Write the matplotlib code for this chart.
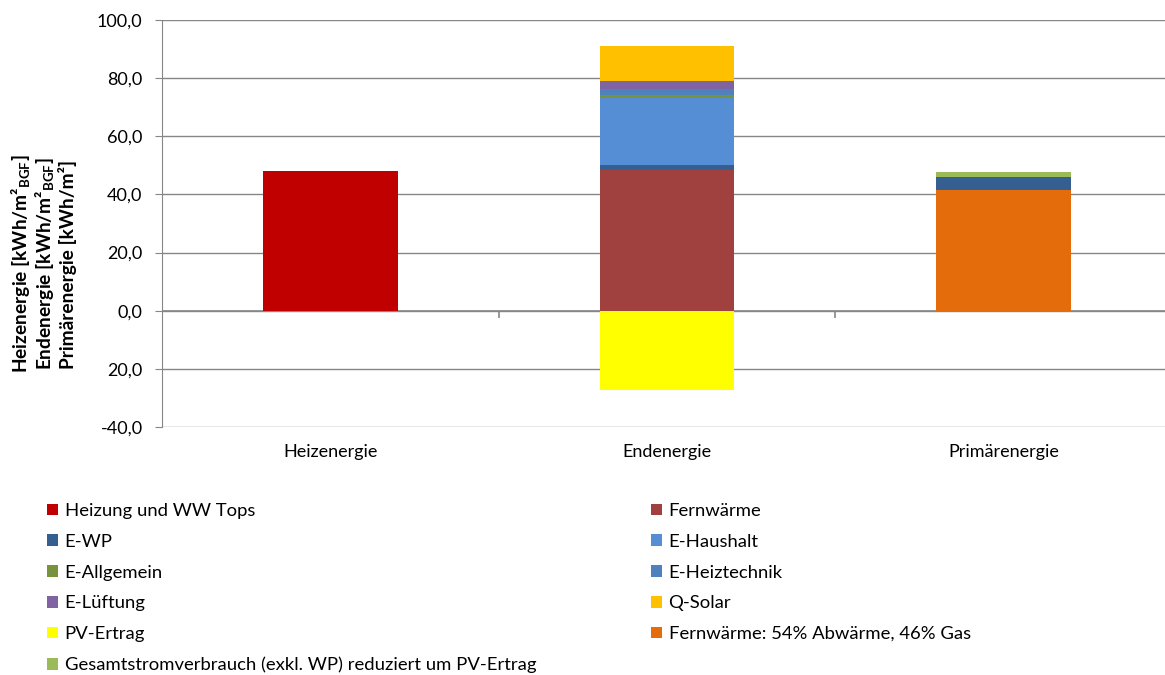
import matplotlib.pyplot as plt
from matplotlib.patches import Patch

plt.rcParams['font.family'] = ['Lato', 'DejaVu Sans']
plt.rcParams['mathtext.fontset'] = 'custom'
plt.rcParams['mathtext.rm'] = 'Lato'
plt.rcParams['mathtext.bf'] = 'Lato:bold'

# Kategorien und Serienwerte (kWh/m²)
categories = ['Heizenergie', 'Endenergie', 'Primärenergie']

heizung_ww = [48.1, 0, 0]
fw_abwaerme = [0, 0, 41.6]
fernwaerme = [0, 48.5, 0]
e_wp = [0, 1.5, 4.4]
e_haushalt = [0, 23.2, 0]
e_allgemein = [0, 1.0, 0]
e_heiztechnik = [0, 2.1, 0]
e_lueftung = [0, 2.7, 0]
q_solar = [0, 12.1, 0]
gesamtstrom = [0, 0, 1.8]
pv_ertrag = [0, -27.2, 0]

yticks = [-40, -20, 0, 20, 40, 60, 80, 100]
ytick_labels = ['-40,0', '20,0', '0,0', '20,0', '40,0', '60,0', '80,0', '100,0']

series = [
    ('Heizung und WW Tops', heizung_ww, '#C00000'),
    ('Fernwärme: 54% Abwärme, 46% Gas', fw_abwaerme, '#E46C0A'),
    ('Fernwärme', fernwaerme, '#A0403F'),
    ('E-WP', e_wp, '#355F91'),
    ('E-Haushalt', e_haushalt, '#558ED5'),
    ('E-Allgemein', e_allgemein, '#77933C'),
    ('E-Heiztechnik', e_heiztechnik, '#4F81BD'),
    ('E-Lüftung', e_lueftung, '#8064A2'),
    ('Q-Solar', q_solar, '#FFC000'),
    ('Gesamtstromverbrauch (exkl. WP) reduziert um PV-Ertrag', gesamtstrom, '#9BBB59'),
]
pv_color = '#FFFF00'
grid_col = '#868686'

fig = plt.figure(figsize=(11.65, 6.75), dpi=100)
ax = fig.add_axes([162 / 1165, 1 - 427 / 675, 1 - 162 / 1165, (427 - 20) / 675])

x = list(range(len(categories)))
width = 0.4
bottom = [0.0] * len(categories)
colors = {}
for name, vals, col in series:
    ax.bar(x, vals, width, bottom=bottom, color=col, zorder=3)
    bottom = [b + v for b, v in zip(bottom, vals)]
    colors[name] = col
ax.bar(x, pv_ertrag, width, color=pv_color, zorder=3)
colors['PV-Ertrag'] = pv_color

ax.set_xlim(-0.5, 2.48)
ax.set_ylim(-40, 100)
ax.set_yticks(yticks)
ax.set_yticklabels(ytick_labels, fontsize=13)
ax.set_xticks(x)
ax.set_xticklabels(categories, fontsize=13)
ax.tick_params(axis='x', length=0, pad=12)
ax.tick_params(axis='y', length=5, color=grid_col, pad=9)
ax.yaxis.grid(True, color=grid_col, linewidth=1, zorder=0)
ax.axhline(0, color=grid_col, linewidth=1.2, zorder=2)
ax.vlines([0.5, 1.5], -2.4, 0, color=grid_col, linewidth=1.2, zorder=2)
for s in ['top', 'right', 'bottom']:
    ax.spines[s].set_visible(False)
ax.spines['left'].set_color(grid_col)

fig.text(43 / 1165, 1 - 264 / 675,
         'Heizenergie [kWh/m²$_{\\mathbf{BGF}}$]\n'
         'Endenergie [kWh/m²$_{\\mathbf{BGF}}$]\n'
         'Primärenergie [kWh/m²]',
         rotation=90, ha='center', va='center', multialignment='center',
         fontsize=13.8, fontweight='bold', linespacing=1.05)

# Legende in zwei Spalten
left_items = ['Heizung und WW Tops', 'E-WP', 'E-Allgemein', 'E-Lüftung', 'PV-Ertrag',
              'Gesamtstromverbrauch (exkl. WP) reduziert um PV-Ertrag']
right_items = ['Fernwärme', 'E-Haushalt', 'E-Heiztechnik', 'Q-Solar',
               'Fernwärme: 54% Abwärme, 46% Gas']

def add_legend(items, x0):
    handles = [Patch(facecolor=colors[n], edgecolor='none') for n in items]
    leg = fig.legend(handles, items, loc='upper left', bbox_to_anchor=(x0, 1 - 503 / 675),
                     frameon=False, fontsize=13.3, handlelength=0.6, handleheight=0.6,
                     handletextpad=0.35, labelspacing=0.8, borderpad=0, borderaxespad=0)
    return leg

add_legend(left_items, 47 / 1165)
add_legend(right_items, 651 / 1165)

fig.savefig('out.png', dpi=100)
